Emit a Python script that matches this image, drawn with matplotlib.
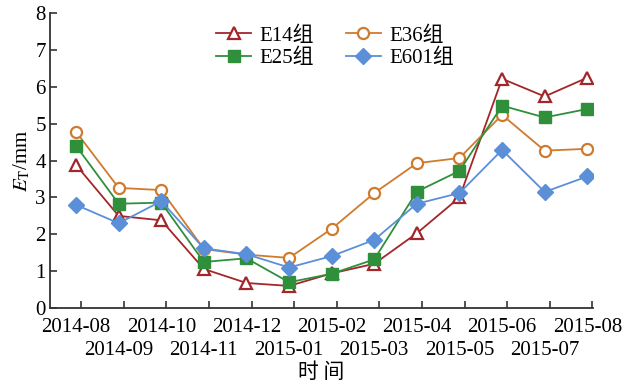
import matplotlib
matplotlib.use("Agg")
import matplotlib.pyplot as plt
import numpy as np

plt.rcParams['font.family'] = ['Liberation Serif', 'Noto Sans CJK SC']
plt.rcParams['mathtext.fontset'] = 'stix'

months = ['2014-08', '2014-09', '2014-10', '2014-11', '2014-12', '2015-01',
          '2015-02', '2015-03', '2015-04', '2015-05', '2015-06', '2015-07', '2015-08']

e14 = [3.88, 2.5, 2.38, 1.06, 0.68, 0.6, 0.94, 1.2, 2.03, 3.0, 6.22, 5.74, 6.25]
e36 = [4.78, 3.26, 3.2, 1.6, 1.45, 1.36, 2.15, 3.12, 3.93, 4.07, 5.24, 4.27, 4.32]
e25 = [4.4, 2.83, 2.86, 1.25, 1.35, 0.7, 0.93, 1.32, 3.16, 3.72, 5.49, 5.17, 5.4]
e601 = [2.8, 2.3, 2.9, 1.62, 1.46, 1.1, 1.41, 1.85, 2.83, 3.12, 4.29, 3.15, 3.57]

labels = ['E14组', 'E25组', 'E36组', 'E601组']

fig = plt.figure(figsize=(6.26, 3.87), dpi=100)
ax = fig.add_axes([0.080, 0.204, 0.867, 0.762])

x = np.arange(len(months))
red, orange, green, blue = '#a3262a', '#d07a2e', '#2f8f3b', '#5b8fd8'

l14, = ax.plot(x, e14, color=red, marker='^', mfc='white', mec=red, mew=1.6, ms=8, lw=1.3, zorder=3)
l36, = ax.plot(x, e36, color=orange, marker='o', mfc='white', mec=orange, mew=1.6, ms=8, lw=1.3, zorder=4)
l25, = ax.plot(x, e25, color=green, marker='s', mfc=green, mec=green, ms=8, lw=1.3, zorder=5)
l601, = ax.plot(x, e601, color=blue, marker='D', mfc=blue, mec=blue, ms=8, lw=1.3, zorder=6)

ax.set_xlim(-0.61, 12.13)
ax.set_ylim(0, 8)
ax.set_yticks(range(0, 9))

# tick marks sit slightly right of each month; labels centred on the points
ax.set_xticks(x + 0.12)
ax.set_xticklabels([])
# first row: even months as minor tick labels
ax.set_xticks(x[::2], minor=True)
ax.set_xticklabels(months[::2], minor=True, fontsize=15)
ax.tick_params(axis='x', which='minor', length=0, pad=7.0)
# second row: odd months, staggered below
for xi in x[1::2]:
    ax.annotate(months[xi], xy=(xi, 0), xycoords=('data', 'axes fraction'),
                xytext=(0, -23.5), textcoords='offset points',
                ha='center', va='top', fontsize=15, annotation_clip=False)

ax.tick_params(axis='x', which='major', direction='in', length=5, width=1.2, color='#333333')
ax.tick_params(axis='y', direction='in', length=5, width=1.2, labelsize=15, pad=3, color='#333333')

for s in ['top', 'right']:
    ax.spines[s].set_visible(False)
for s in ['left', 'bottom']:
    ax.spines[s].set_linewidth(1.3)
    ax.spines[s].set_color('#333333')

ax.set_ylabel(r'$E_{\mathrm{T}}$/mm', fontsize=15, labelpad=2)
ax.set_xlabel('时 间', fontsize=15, family=['Noto Sans CJK SC'])
ax.xaxis.set_label_coords(0.5, -0.178)

ax.legend([l14, l25, l36, l601], labels, ncol=2, frameon=False,
          loc='upper center', bbox_to_anchor=(0.525, 1.02), handlelength=1.7,
          columnspacing=1.5, handletextpad=0.4, labelspacing=0.15,
          prop={'family': ['Liberation Serif', 'Noto Sans CJK SC'], 'size': 15})

fig.savefig('out.png', dpi=100)
